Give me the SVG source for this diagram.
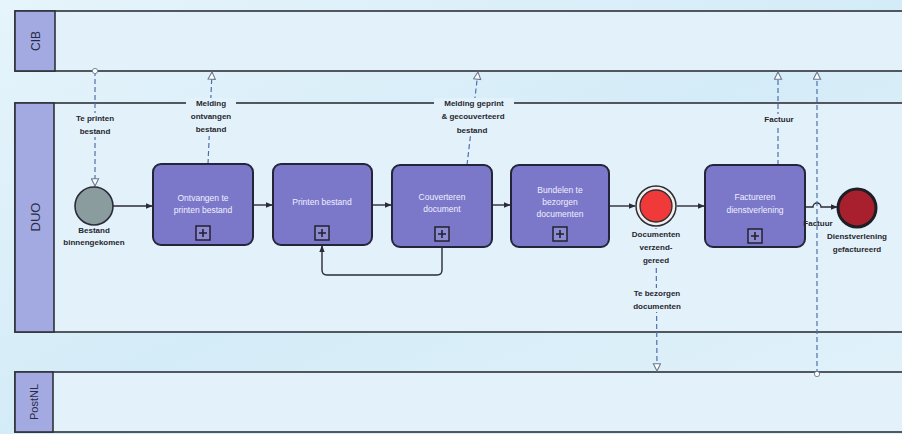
<svg xmlns="http://www.w3.org/2000/svg" width="902" height="434" viewBox="0 0 902 434">
<defs>
<linearGradient id="bg" x1="0" y1="0" x2="1" y2="1">
<stop offset="0" stop-color="#e6f4fb"/>
<stop offset="0.5" stop-color="#d4ecf8"/>
<stop offset="1" stop-color="#e2f2fa"/>
</linearGradient>
<marker id="seq" viewBox="0 0 10 10" refX="9" refY="5" markerWidth="7" markerHeight="7" orient="auto" markerUnits="userSpaceOnUse">
<path d="M0,1 L10,5 L0,9 Z" fill="#2b2b3a"/>
</marker>
<marker id="msg" viewBox="0 0 10 10" refX="9" refY="5" markerWidth="9" markerHeight="9" orient="auto" markerUnits="userSpaceOnUse">
<path d="M1,1 L9,5 L1,9 Z" fill="#ffffff" stroke="#6a7890" stroke-width="1.2"/>
</marker>
<marker id="orig" viewBox="0 0 8 8" refX="4" refY="4" markerWidth="7" markerHeight="7" markerUnits="userSpaceOnUse">
<circle cx="4" cy="4" r="3" fill="#ffffff" stroke="#6a7890" stroke-width="1"/>
</marker>
</defs>
<style>
.lane{fill:#e3f2fa;stroke:#2f3138;stroke-width:1.6}
.hdr{fill:#a3aae2;stroke:#2f3138;stroke-width:1.6}
.lname{font-family:"Liberation Sans",Arial,sans-serif;font-size:12px;fill:#2a2a44}
.task{fill:#7b77c9;stroke:#25253a;stroke-width:2}
.ttxt{font-family:"Liberation Sans",Arial,sans-serif;font-size:8.5px;fill:#f0f0ff;text-anchor:middle}
.plus{fill:#8e8ad2;stroke:#22222e;stroke-width:1.5}
.pl{stroke:#22222e;stroke-width:1.6}
.lbl{font-family:"Liberation Sans",Arial,sans-serif;font-size:8px;font-weight:bold;fill:#26262e;text-anchor:middle}
.bgl{fill:#e3f2fa}
.sf{fill:none;stroke:#2b2b3a;stroke-width:1.4}
.mf{fill:none;stroke:#4f6fb0;stroke-width:1.2;stroke-dasharray:5,3}
</style>
<rect x="0" y="0" width="902" height="434" fill="url(#bg)"/>
<g id="lane-cib">
<rect class="lane" x="15" y="11" width="900" height="60"/>
<rect class="hdr" x="15" y="11" width="40" height="60"/>
<text class="lname" transform="translate(40,41) rotate(-90)" text-anchor="middle">CIB</text>
</g>
<g id="lane-duo">
<rect class="lane" x="15" y="103" width="900" height="229"/>
<rect class="hdr" x="15" y="103" width="39" height="229"/>
<text class="lname" transform="translate(40,217) rotate(-90)" text-anchor="middle" style="font-size:13px">DUO</text>
</g>
<g id="lane-postnl">
<rect class="lane" x="15" y="372" width="900" height="60"/>
<rect class="hdr" x="15" y="372" width="38" height="60"/>
<text class="lname" transform="translate(38,402) rotate(-90)" text-anchor="middle" style="font-size:11px">PostNL</text>
</g>
<g id="connectors">
<path class="sf" d="M113,206 L152,206" marker-end="url(#seq)"/>
<path class="sf" d="M253,205 L272,205" marker-end="url(#seq)"/>
<path class="sf" d="M372,205 L391,205" marker-end="url(#seq)"/>
<path class="sf" d="M492,205 L510,205" marker-end="url(#seq)"/>
<path class="sf" d="M609,206 L635,206" marker-end="url(#seq)"/>
<path class="sf" d="M677,206 L704,206" marker-end="url(#seq)"/>
<path class="sf" d="M805,207 L813,207 A4,4 0 0 1 821,207 L837,207" marker-end="url(#seq)"/>
<path class="sf" d="M442,247 L442,270 Q442,275 437,275 L327,275 Q322,275 322,270 L322,246" marker-end="url(#seq)"/>
<path class="mf" d="M95,71 L95,186" marker-start="url(#orig)" marker-end="url(#msg)"/>
<path class="mf" d="M208,164 L212,72" marker-end="url(#msg)"/>
<path class="mf" d="M467,165 L478,72" marker-end="url(#msg)"/>
<path class="mf" d="M778,165 L778,72" marker-end="url(#msg)"/>
<path class="mf" d="M817,374 L817,72" marker-start="url(#orig)" marker-end="url(#msg)"/>
<path class="mf" d="M656,228 L657,371" marker-end="url(#msg)"/>
</g>
<g id="start-event">
<circle cx="94" cy="206" r="19" fill="#8a9c9e" stroke="#2b2b3a" stroke-width="1.6"/>
<text class="lbl" x="94" y="233">Bestand</text>
<text class="lbl" x="94" y="245">binnengekomen</text>
</g>
<g id="task-ontvangen">
<rect class="task" x="153" y="164" width="100" height="81" rx="8"/>
<text class="ttxt" x="203" y="201">Ontvangen te</text>
<text class="ttxt" x="203" y="213">printen bestand</text>
<rect class="plus" x="196" y="226" width="14" height="14"/>
<path class="pl" d="M199,233 H207 M203,229 V237"/>
</g>
<g id="task-printen">
<rect class="task" x="273" y="164" width="99" height="81" rx="8"/>
<text class="ttxt" x="322" y="205">Printen bestand</text>
<rect class="plus" x="315" y="226" width="14" height="14"/>
<path class="pl" d="M318,233 H326 M322,229 V237"/>
</g>
<g id="task-couverteren">
<rect class="task" x="392" y="165" width="100" height="82" rx="8"/>
<text class="ttxt" x="442" y="200">Couverteren</text>
<text class="ttxt" x="442" y="212">document</text>
<rect class="plus" x="435" y="227" width="14" height="14"/>
<path class="pl" d="M438,234 H446 M442,230 V238"/>
</g>
<g id="task-bundelen">
<rect class="task" x="511" y="165" width="98" height="82" rx="8"/>
<text class="ttxt" x="560" y="193">Bundelen te</text>
<text class="ttxt" x="560" y="205">bezorgen</text>
<text class="ttxt" x="560" y="217">documenten</text>
<rect class="plus" x="553" y="227" width="14" height="14"/>
<path class="pl" d="M556,234 H564 M560,230 V238"/>
</g>
<g id="event-verzendgereed">
<circle cx="656" cy="206" r="20" fill="#f4eee6" stroke="#2b2b3a" stroke-width="1.5"/>
<circle cx="656" cy="206" r="16" fill="#f03a3a" stroke="#2b2b3a" stroke-width="1.3"/>
<rect class="bgl" x="628" y="229" width="56" height="37"/>
<text class="lbl" x="656" y="237">Documenten</text>
<text class="lbl" x="656" y="250">verzend-</text>
<text class="lbl" x="656" y="263">gereed</text>
</g>
<g id="task-factureren">
<rect class="task" x="705" y="165" width="100" height="82" rx="8"/>
<text class="ttxt" x="755" y="200">Factureren</text>
<text class="ttxt" x="755" y="213">dienstverlening</text>
<rect class="plus" x="748" y="229" width="14" height="14"/>
<path class="pl" d="M751,236 H759 M755,232 V240"/>
</g>
<g id="end-event">
<circle cx="857" cy="208" r="19" fill="#a8202e" stroke="#1e1e26" stroke-width="3"/>
<text class="lbl" x="857" y="239">Dienstverlening</text>
<text class="lbl" x="857" y="252">gefactureerd</text>
</g>
<g id="labels">
<rect class="bgl" x="72" y="113" width="46" height="24"/>
<text class="lbl" x="95" y="121">Te printen</text>
<text class="lbl" x="95" y="134">bestand</text>
<rect class="bgl" x="186" y="98" width="50" height="38"/>
<text class="lbl" x="211" y="106">Melding</text>
<text class="lbl" x="211" y="119">ontvangen</text>
<text class="lbl" x="211" y="132">bestand</text>
<rect class="bgl" x="434" y="98" width="80" height="38"/>
<text class="lbl" x="474" y="106">Melding geprint</text>
<text class="lbl" x="473" y="119">&amp; gecouverteerd</text>
<text class="lbl" x="472" y="133">bestand</text>
<rect class="bgl" x="762" y="114" width="34" height="11"/>
<text class="lbl" x="779" y="122">Factuur</text>
<text class="lbl" x="818" y="226">Factuur</text>
<rect class="bgl" x="630" y="288" width="54" height="24"/>
<text class="lbl" x="657" y="296">Te bezorgen</text>
<text class="lbl" x="657" y="309">documenten</text>
</g>
</svg>
